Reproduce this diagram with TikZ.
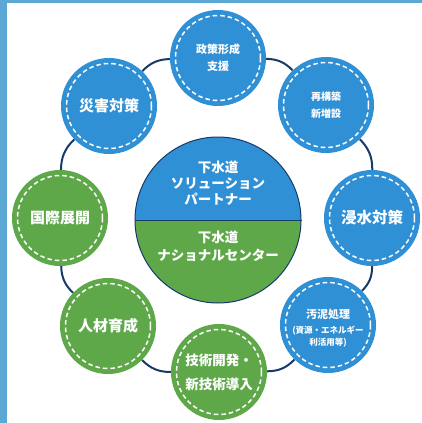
\documentclass[tikz,border=0pt]{standalone}
\usepackage{fontspec}
\setmainfont{Noto Sans CJK JP}
\definecolor{cblue}{RGB}{48,144,214}
\definecolor{cgreen}{RGB}{94,168,74}
\definecolor{navy}{RGB}{24,58,104}
\definecolor{frameblue}{RGB}{92,168,212}
\tikzset{
  bubble/.style={circle, minimum size=96pt, inner sep=0pt, text=white, align=center, font=\bfseries},
  bluebub/.style={bubble, fill=cblue},
  greenbub/.style={bubble, fill=cgreen},
  dashring/.style={draw=white, line width=1.5pt, dash pattern=on 4.5pt off 3pt},
  link/.style={draw=navy, line width=2pt},
  ctext/.style={text=white, align=center, font=\bfseries\fontsize{13.5}{16}\selectfont},
}
\begin{document}
\begin{tikzpicture}[x=1pt,y=1pt]
\useasboundingbox (0,0) rectangle (422,-423);
\fill[white] (0,0) rectangle (422,-423);
\fill[frameblue] (0,0) rectangle (7,-423);
\fill[frameblue] (0,0) rectangle (422,-3);

% central circle
\fill[cblue] (218,-220) ++(83,0) arc[start angle=0,end angle=180,radius=83] -- cycle;
\fill[cgreen] (218,-220) ++(-83,0) arc[start angle=180,end angle=360,radius=83] -- cycle;
\node[circle, minimum size=166pt, inner sep=0pt, draw=navy, line width=1pt] (c) at (218,-220) {};
\draw[navy, line width=1pt] (c.west) -- (c.east);
\node[ctext] (ctop) at (218,-183) {下水道\\ソリューション\\パートナー};
\node[ctext, font=\bfseries\fontsize{13.5}{18}\selectfont] (cbot) at (218,-246) {下水道\\ナショナルセンター};

% outer circles
\node[bluebub, font=\bfseries\fontsize{11}{17}\selectfont] (t) at (218,-58) {政策形成\\支援};
\node[bluebub, font=\bfseries\fontsize{10}{17}\selectfont] (ne) at (326,-105) {再構築\\新増設};
\node[bluebub, font=\bfseries\fontsize{15.5}{18}\selectfont] (e) at (372,-218) {浸水対策};
\node[bluebub] (se) at (328,-325) {};
\node[greenbub, font=\bfseries\fontsize{13.5}{24}\selectfont] (s) at (219,-372) {技術開発・\\新技術導入};
\node[greenbub, font=\bfseries\fontsize{15}{18}\selectfont] (sw) at (108,-326) {人材育成};
\node[greenbub, font=\bfseries\fontsize{15}{18}\selectfont] (w) at (60,-218) {国際展開};
\node[bluebub, font=\bfseries\fontsize{15}{18}\selectfont] (nw) at (109,-106) {災害対策};

\node[text=white, font=\bfseries\fontsize{11}{13}\selectfont] (se1) at (328,-314) {汚泥処理};
\node[text=white, align=center, font=\bfseries\fontsize{8.5}{12}\selectfont] (se2) at (328,-337) {(資源・エネルギー\\利活用等)};

\foreach \n in {t,ne,e,se,s,sw,w,nw}
  \draw[dashring] (\n) circle[radius=42.5];

% connectors
\draw[link] (t) to[bend left=22.5] (ne);
\draw[link] (ne) to[bend left=22.5] (e);
\draw[link] (e) to[bend left=22.5] (se);
\draw[link] (se) to[bend left=22.5] (s);
\draw[link] (s) to[bend left=22.5] (sw);
\draw[link] (sw) to[bend left=22.5] (w);
\draw[link] (w) to[bend left=22.5] (nw);
\draw[link] (nw) to[bend left=22.5] (t);
\end{tikzpicture}
\end{document}
